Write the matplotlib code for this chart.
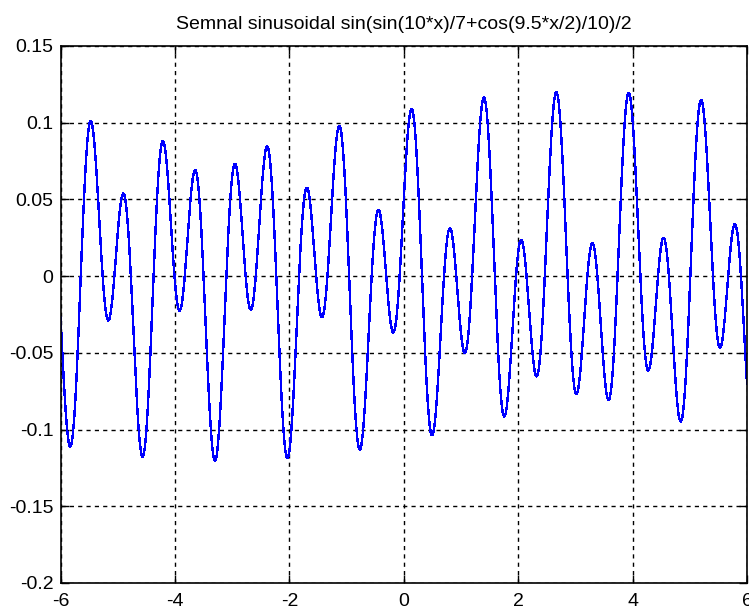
import numpy as np
import matplotlib
matplotlib.use("Agg")
import matplotlib.pyplot as plt

plt.rcParams['font.family'] = ['Liberation Sans', 'DejaVu Sans']

# Series: the function named in the chart's title, sampled as in the original plot
title_text = "Semnal sinusoidal sin(sin(10*x)/7+cos(9.5*x/2)/10)/2"
x_start, x_stop, x_step = -6.0, 6.0, 0.01
x = np.arange(x_start, x_stop + x_step / 2, x_step)
y = np.sin(np.sin(10 * x) / 7 + np.cos(9.5 * x / 2) / 10) / 2

x_ticks = [-6, -4, -2, 0, 2, 4, 6]
x_tick_labels = ["-6", "-4", "-2", "0", "2", "4", "6"]
y_ticks = [-0.2, -0.15, -0.1, -0.05, 0, 0.05, 0.1, 0.15]
y_tick_labels = ["-0.2", "-0.15", "-0.1", "-0.05", "0", "0.05", "0.1", "0.15"]

fig = plt.figure(figsize=(7.49, 6.10), dpi=100, facecolor='white')
ax = fig.add_axes([0.0808, 0.0443, 0.9165, 0.8803])
ax.plot(x, y, color='#0000ff', lw=1.0, antialiased=False)

ax.set_xlim(-6, 6)
ax.set_ylim(-0.2, 0.15)
ax.set_xticks(x_ticks)
ax.set_xticklabels(x_tick_labels)
ax.set_yticks(y_ticks)
ax.set_yticklabels(y_tick_labels)
ax.tick_params(direction='in', length=6, width=1.0, top=True, right=True,
               labelsize=14, colors='black')
ax.tick_params(axis='x', pad=7)
ax.tick_params(axis='y', pad=5)
ax.grid(True, color='black', linestyle=(0, (3, 3)), linewidth=1.0)
for s in ax.spines.values():
    s.set_linewidth(1.2)
    s.set_color('black')
ax.set_title(title_text, fontsize=14, pad=12)

fig.savefig("out.png", dpi=100, facecolor='white')
